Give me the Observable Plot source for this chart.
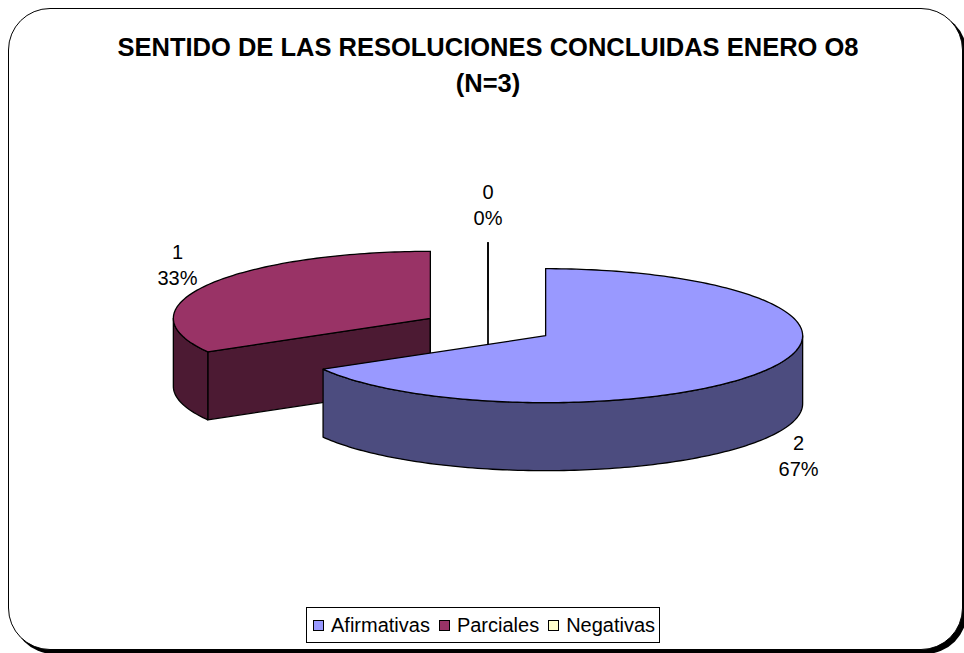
<!DOCTYPE html>
<html><head><meta charset="utf-8">
<script src="https://cdn.jsdelivr.net/npm/d3@7"></script>
<script src="https://cdn.jsdelivr.net/npm/@observablehq/plot@0.6"></script>
<style>
body{margin:0;background:#fff;font-family:"Liberation Sans",Arial,sans-serif;}
#wrap{position:relative;width:964px;height:653px;overflow:hidden;background:#fff;}
#frame{position:absolute;left:8px;top:8px;width:955px;height:642px;border:1.5px solid #000;border-radius:42px;box-shadow:4px 4px 0 #000;background:#fff;box-sizing:border-box;}
#chart{position:absolute;left:0;top:0;}
#title{position:absolute;left:0;width:976px;top:29px;text-align:center;font-weight:bold;font-size:25.5px;line-height:36px;color:#000;}
#legend{position:absolute;left:306px;top:607px;height:36px;box-sizing:border-box;border:1.5px solid #000;background:#fff;display:flex;align-items:center;padding:0 4px 0 6px;font-size:20px;}
#legend .item{display:flex;align-items:center;margin-right:9px;}
#legend .item:last-child{margin-right:0;}
#legend .sw{width:11px;height:11px;border:1px solid #000;margin-right:7px;box-sizing:border-box;}
</style>
</head><body>
<div id="wrap">
  <div id="frame"></div>
  <div id="chart"></div>
  <div id="title">SENTIDO DE LAS RESOLUCIONES CONCLUIDAS ENERO O8<br>(N=3)</div>
  <div id="legend"></div>
</div>
<script>
// ---- data ----
const categories = ["Afirmativas", "Parciales", "Negativas"];
const values = [2, 1, 0];
const topColors = ["#9999FF", "#993366", "#FFFFCC"];
const sideColors = ["#4C4C7F", "#4C1A33", "#80806A"];

// ---- geometry (pie units: radius = 1) ----
const W = 964, H = 653;
const PX = 257;          // pixels per radius unit
const CX = 487.5, CY = 326.5;
const T = 67 / 257;      // vertical flattening of the ellipse
const D = 68 / 257;      // depth of the 3D pie
const K = 0.259;         // explosion distance
const total = d3.sum(values);

let acc = 0;
const slices = values.map((v, i) => {
  const a0 = acc / total * 2 * Math.PI;
  acc += v;
  const a1 = acc / total * 2 * Math.PI;
  const mid = (a0 + a1) / 2;
  return {i, v, a0, a1, mid, cx: K * Math.sin(mid), cy: K * T * Math.cos(mid)};
});

const rim = (s, a, dz = 0) => ({x: s.cx + Math.sin(a), y: s.cy + T * Math.cos(a) - dz});
function arc(s, a, b, dz = 0) {
  const n = Math.max(2, Math.ceil(Math.abs(b - a) / 0.02));
  return d3.range(n + 1).map(k => rim(s, a + (b - a) * k / n, dz));
}

const marks = [];
const order = slices.slice().sort((p, q) => q.cy - p.cy); // back to front
for (const s of order) {
  const c = {x: s.cx, y: s.cy}, cb = {x: s.cx, y: s.cy - D};
  // radial faces
  for (const [a, vis] of [[s.a0, -Math.sin(s.a0)], [s.a1, Math.sin(s.a1)]]) {
    if (vis >= -1e-9) {
      const pts = [c, rim(s, a), rim(s, a, D), cb];
      marks.push(Plot.line(pts, {x: "x", y: "y", fill: sideColors[s.i], stroke: "#000", strokeWidth: 1.3, curve: "linear-closed"}));
    }
  }
  // outer side (front half only)
  const lo = Math.max(s.a0, Math.PI / 2), hi = Math.min(s.a1, 3 * Math.PI / 2);
  if (hi > lo) {
    const pts = arc(s, lo, hi).concat(arc(s, hi, lo, D));
    marks.push(Plot.line(pts, {x: "x", y: "y", fill: sideColors[s.i], stroke: "#000", strokeWidth: 1.3, curve: "linear-closed"}));
  }
  // top face
  const topPts = [c].concat(arc(s, s.a0, s.a1));
  marks.push(Plot.line(topPts, {x: "x", y: "y", fill: topColors[s.i], stroke: "#000", strokeWidth: 1.3, curve: "linear-closed"}));
}

// labels
const OFF = 35 / PX;
const labels = slices.map(s => {
  const front = Math.cos(s.mid) < 0;
  const p = rim(s, s.mid, front ? D : 0);
  return {
    x: p.x + OFF * Math.sin(s.mid),
    y: p.y + OFF * Math.cos(s.mid) + (front ? 0 : 4 / PX),
    text: `${s.v}\n${Math.round(s.v / total * 100)}%`
  };
});
marks.push(Plot.text(labels, {x: "x", y: "y", text: "text", fontSize: 20, lineHeight: 1.33, fill: "#000"}));

const chart = Plot.plot({
  width: W, height: H,
  margin: 0,
  x: {domain: [-CX / PX, (W - CX) / PX], range: [0, W], axis: null},
  y: {domain: [-(H - CY) / PX, CY / PX], range: [H, 0], axis: null},
  style: {fontFamily: "'Liberation Sans', Arial, sans-serif", background: "transparent", overflow: "visible"},
  marks
});
document.getElementById("chart").appendChild(chart);

// legend
const leg = document.getElementById("legend");
categories.forEach((c, i) => {
  const it = document.createElement("div");
  it.className = "item";
  it.innerHTML = `<span class="sw" style="background:${topColors[i]}"></span><span>${c}</span>`;
  leg.appendChild(it);
});
</script>
</body></html>
